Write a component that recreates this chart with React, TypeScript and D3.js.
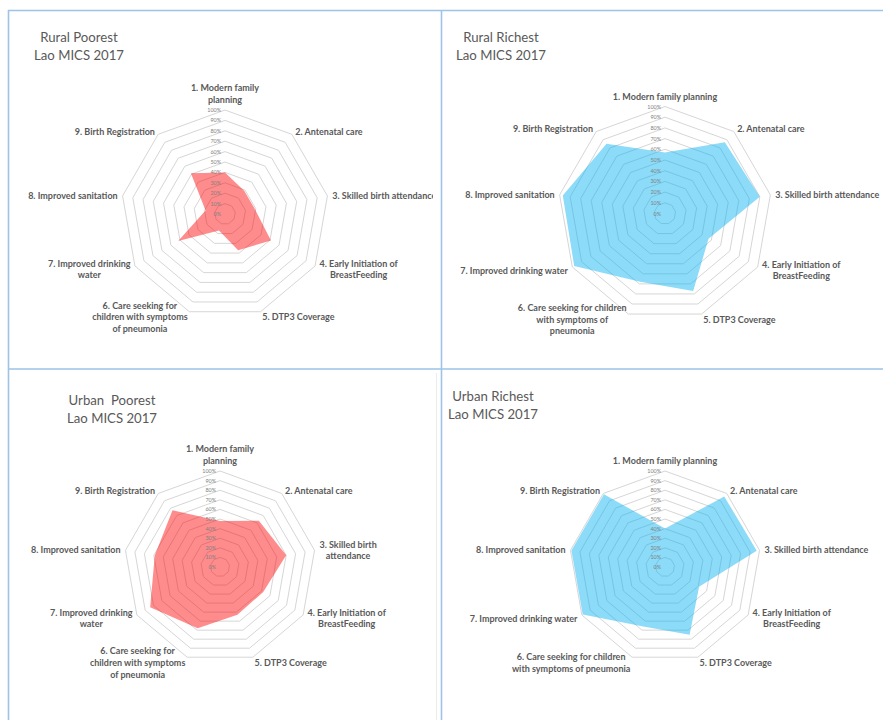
import React, { useMemo } from "react";
import * as d3 from "d3";

// Indicator names around each radar (clockwise from the top)
const categories = [
  "1. Modern family planning",
  "2. Antenatal care",
  "3. Skilled birth attendance",
  "4. Early Initiation of BreastFeeding",
  "5. DTP3 Coverage",
  "6. Care seeking for children with symptoms of pneumonia",
  "7. Improved drinking water",
  "8. Improved sanitation",
  "9. Birth Registration",
];

// Coverage in percent, same order as the categories
const ruralPoorest = [40, 29, 29, 51, 37, 17, 52, 19, 51];
const ruralRichest = [57, 87, 90, 47, 77, 68, 98, 97, 85];
const urbanPoorest = [48, 63, 70, 52, 53, 68, 84, 69, 77];
const urbanRichest = [40, 96, 97, 41, 75, 66, 99, 99, 99];

const ringTicks = [0, 10, 20, 30, 40, 50, 60, 70, 80, 90, 100];

const panelTitles = [
  ["Rural Poorest", "Lao MICS 2017"],
  ["Rural Richest", "Lao MICS 2017"],
  ["Urban  Poorest", "Lao MICS 2017"],
  ["Urban Richest", "Lao MICS 2017"],
];

// Words per line for each axis label, per panel
const wrapA = [[3, 1], [3], [4], [4, 1], [3], [4, 3, 2], [3, 1], [3], [3]];
const wrapB = [[4], [3], [4], [4, 1], [3], [5, 3, 1], [4], [3], [3]];
const wrapC = [[3, 1], [3], [3, 1], [4, 1], [3], [4, 3, 2], [3, 1], [3], [3]];
const wrapD = [[4], [3], [4], [4, 1], [3], [5, 4], [4], [3], [3]];

const W = 883;
const H = 720;
const TEXT = "#595959";
const LABEL_FONT = "Lato, 'Open Sans', sans-serif";

type Panel = {
  values: number[];
  title: string[];
  wraps: number[][];
  cx: number;
  cy: number;
  radius: number;
  color: string;
  titleX: number;
  titleY: number;
  clip?: number;
};

const panels: Panel[] = [
  { values: ruralPoorest, title: panelTitles[0], wraps: wrapA, cx: 225, cy: 214, radius: 104, color: "#FF0000", titleX: 79, titleY: 37, clip: 433 },
  { values: ruralRichest, title: panelTitles[1], wraps: wrapB, cx: 665, cy: 213.5, radius: 107, color: "#00B0F0", titleX: 501, titleY: 37 },
  { values: urbanPoorest, title: panelTitles[2], wraps: wrapC, cx: 220, cy: 567, radius: 96, color: "#FF0000", titleX: 112, titleY: 400, clip: 436 },
  { values: urbanRichest, title: panelTitles[3], wraps: wrapD, cx: 665, cy: 567, radius: 96, color: "#00B0F0", titleX: 493, titleY: 396 },
];

function splitWords(text: string, counts: number[]): string[] {
  const words = text.split(" ");
  const out: string[] = [];
  let k = 0;
  counts.forEach((c) => {
    out.push(words.slice(k, k + c).join(" "));
    k += c;
  });
  if (k < words.length) out[out.length - 1] += " " + words.slice(k).join(" ");
  return out;
}

let measureCtx: CanvasRenderingContext2D | null = null;
function textWidth(s: string, font: string): number {
  if (!measureCtx) measureCtx = document.createElement("canvas").getContext("2d");
  if (!measureCtx) return s.length * 4.5;
  measureCtx.font = font;
  return measureCtx.measureText(s).width;
}

function RadarPanel({ p, idx }: { p: Panel; idx: number }) {
  const n = categories.length;
  const angle = (i: number) => (i * 2 * Math.PI) / n;
  const r = d3.scaleLinear().domain([0, 100]).range([0, p.radius]);
  const radial = d3
    .lineRadial<number>()
    .angle((_, i) => angle(i))
    .radius((v) => r(v))
    .curve(d3.curveLinearClosed);

  const labelSize = 9;
  const lh = 11.6;
  const font = `bold ${labelSize}px Lato`;

  const labels = useMemo(
    () =>
      categories.map((c, i) => {
        const a = angle(i);
        const dx = Math.sin(a);
        const dy = -Math.cos(a);
        const px = p.cx + (p.radius + 5) * dx;
        const py = p.cy + (p.radius + 5) * dy;
        const lines = splitWords(c, p.wraps[i]);
        const maxW = d3.max(lines, (l) => textWidth(l, font)) || 0;
        let x = px;
        if (dx > 0.1) x = px + maxW / 2;
        else if (dx < -0.1) x = px - maxW / 2;
        const ys = lines.map((_, j) =>
          i === 0 ? py - 6 - (lines.length - 1 - j) * lh : py + (j - (lines.length - 1) / 2) * lh
        );
        return { lines, x, ys };
      }),
    [p]
  );

  const clipId = `clip-${idx}`;
  return (
    <g>
      {p.clip && (
        <defs>
          <clipPath id={clipId}>
            <rect x={0} y={0} width={p.clip} height={H} />
          </clipPath>
        </defs>
      )}
      <g clipPath={p.clip ? `url(#${clipId})` : undefined}>
        {/* concentric grid rings */}
        <g transform={`translate(${p.cx},${p.cy})`}>
          {ringTicks
            .filter((t) => t > 0)
            .map((t) => (
              <path
                key={t}
                d={radial(categories.map(() => t)) || ""}
                fill="none"
                stroke="#d6d6d6"
                strokeWidth={1}
              />
            ))}
          {/* series area */}
          <path d={radial(p.values) || ""} fill={p.color} fillOpacity={0.45} stroke="none" />
          {/* value axis tick labels */}
          {ringTicks.map((t) => (
            <text
              key={t}
              x={-4}
              y={-r(t)}
              fontSize={5.4}
              fill="#808080"
              textAnchor="end"
              dominantBaseline="central"
              fontFamily={LABEL_FONT}
            >
              {t}%
            </text>
          ))}
        </g>
        {/* category labels */}
        {labels.map((l, i) => (
          <text
            key={i}
            fontSize={labelSize}
            fontWeight="bold"
            fontFamily={LABEL_FONT}
            fill={TEXT}
            textAnchor="middle"
            dominantBaseline="central"
          >
            {l.lines.map((s, j) => (
              <tspan key={j} x={l.x} y={l.ys[j]}>
                {s}
              </tspan>
            ))}
          </text>
        ))}
      </g>
      {/* panel title */}
      <text fontSize={13.2} fontFamily={LABEL_FONT} fill={TEXT} textAnchor="middle" dominantBaseline="central">
        {p.title.map((s, j) => (
          <tspan key={j} x={p.titleX} y={p.titleY + j * 17.5} style={{ whiteSpace: "pre" }}>
            {s}
          </tspan>
        ))}
      </text>
    </g>
  );
}

export default function App() {
  const border = "#9DC3E6";
  return (
    <svg
      width={W}
      height={H}
      viewBox={`0 0 ${W} ${H}`}
      style={{ position: "absolute", left: 0, top: 0, background: "#fff" }}
    >
      <rect x={0} y={0} width={W} height={H} fill="#fff" />
      {panels.map((p, i) => (
        <RadarPanel key={i} p={p} idx={i} />
      ))}
      {/* faint chart frame edge in the lower-left panel */}
      <line x1={436.5} y1={373} x2={436.5} y2={H} stroke="#ececec" strokeWidth={1} />
      {/* panel dividers */}
      <g stroke={border} strokeWidth={1.6} fill="none">
        <line x1={8} y1={10.5} x2={W} y2={10.5} />
        <line x1={8.5} y1={10} x2={8.5} y2={H} />
        <line x1={441.5} y1={10} x2={441.5} y2={H} />
        <line x1={8} y1={369} x2={W} y2={369} />
      </g>
    </svg>
  );
}
